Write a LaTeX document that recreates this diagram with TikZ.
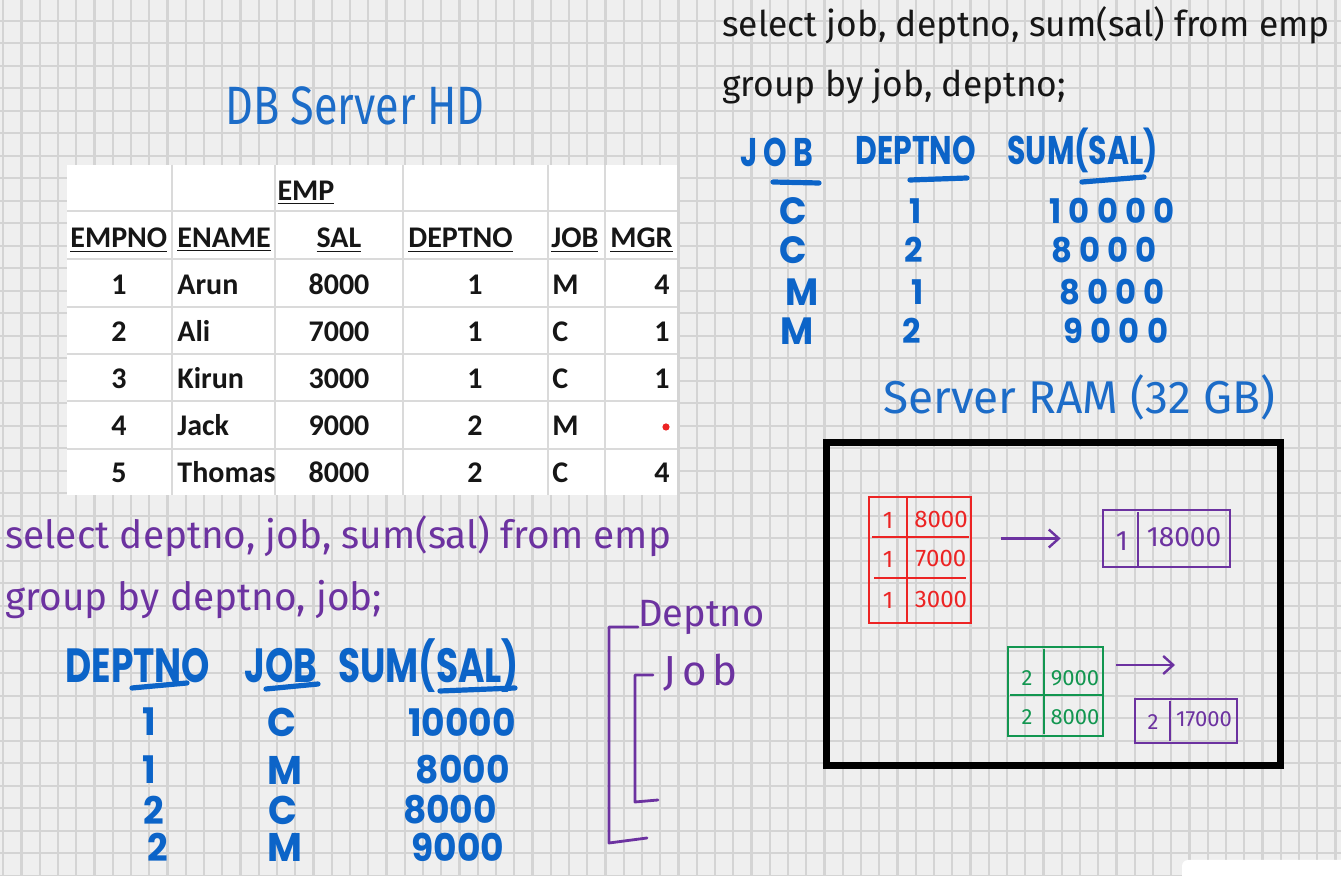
\documentclass[tikz,border=0pt]{standalone}
\usepackage{fontspec}
\setmainfont{Carlito}
\newfontfamily\handfont{Fira Sans}
\newfontfamily\handnarrow{Fira Sans}[FakeStretch=0.8]
\newfontfamily\inkfont{Poppins}[FakeStretch=0.75]
\newfontfamily\inkwide{Poppins}[FakeStretch=0.95]
\usetikzlibrary{arrows.meta}

\definecolor{paper}{RGB}{239,239,239}
\definecolor{gridgray}{RGB}{212,212,212}
\definecolor{tblgray}{RGB}{218,218,218}
\definecolor{inkblue}{RGB}{12,100,200}
\definecolor{titleblue}{RGB}{28,108,200}
\definecolor{inkpurple}{RGB}{108,50,160}
\definecolor{inkred}{RGB}{236,36,36}
\definecolor{inkgreen}{RGB}{18,150,80}
\definecolor{pen}{RGB}{22,22,22}

\begin{document}
\begin{tikzpicture}[x=0.5pt,y=-0.5pt,
    gridline/.style={draw=gridgray, line width=1.1pt},
    tblline/.style={draw=tblgray, line width=0.6pt},
    cell/.style={font=\fontsize{15}{18}\selectfont\bfseries, text=pen, inner sep=0pt},
    query/.style={font=\handfont\fontsize{17.7}{21}\selectfont, anchor=base west, inner sep=0pt},
    ink/.style={font=\inkfont\bfseries\fontsize{24}{28}\selectfont, text=inkblue, inner sep=0pt},
    smallink/.style={ink, font=\inkfont\bfseries\fontsize{20}{24}\selectfont},
    rowink/.style={ink, font=\inkwide\bfseries\fontsize{19}{22}\selectfont},
    toprowink/.style={ink, font=\inkwide\bfseries\fontsize{17}{20}\selectfont},
    stroke/.style={draw=inkblue, line width=2.6pt, line cap=round},
    note/.style={font=\handfont\fontsize{12}{14}\selectfont, inner sep=0pt},
    bracket/.style={draw=inkpurple, line width=1.4pt, line join=round, line cap=round},
    flow/.style={-{Straight Barb[length=5pt,width=9pt]}, draw=inkpurple, line width=1.2pt}
  ]
    \clip (0,0) rectangle (1341,876);
    % squared paper
    \fill[paper] (0,0) rectangle (1341,876);
    \foreach \i in {0,...,73}
      \draw[gridline] ({3.3+18.25*\i},0) -- ++(0,876);
    \foreach \j in {0,...,38}
      \draw[gridline] (0,{20.7+22.5*\j}) -- ++(1341,0);

    % EMP table
    \fill[white] (67,165) rectangle (677,495);
    \foreach \c in {172,275,403,548,605}
      \draw[tblline] (\c,165) -- (\c,495);
    \foreach \r in {211,259,307,354,401,449}
      \draw[tblline] (67,\r) -- (677,\r);
    \node[cell, anchor=base] (emp) at (306,201) {\underline{EMP}};
    \node[cell, anchor=base west] (hno) at (70,248) {\underline{EMPNO}};
    \node[cell, anchor=base west] (hname) at (177,248) {\underline{ENAME}};
    \node[cell, anchor=base] (hsal) at (339,248) {\underline{SAL}};
    \node[cell, anchor=base west] (hdep) at (408,248) {\underline{DEPTNO}};
    \node[cell, anchor=base west] (hjob) at (551,248) {\underline{JOB}};
    \node[cell, anchor=base west] (hmgr) at (610,248) {\underline{MGR}};
    \foreach \n/\name/\sal/\dep/\job/\mgr [count=\k] in
      {1/Arun/8000/1/M/4, 2/Ali/7000/1/C/1, 3/Kirun/3000/1/C/1,
       4/Jack/9000/2/M/{}, 5/Thomas/8000/2/C/4} {
      \pgfmathsetmacro\yb{248+47*\k}
      \node[cell, anchor=base] (no\k) at (119,\yb) {\n};
      \node[cell, anchor=base west] (nm\k) at (177,\yb) {\name};
      \node[cell, anchor=base] (sal\k) at (339,\yb) {\sal};
      \node[cell, anchor=base] (dep\k) at (475,\yb) {\dep};
      \node[cell, anchor=base west] (job\k) at (552,\yb) {\job};
      \node[cell, anchor=base east] (mgr\k) at (670,\yb) {\mgr};
    }
    \fill[inkred] (666,427) circle (1.8pt);

    \node[font=\handnarrow\fontsize{27}{30}\selectfont, text=titleblue,
      anchor=base west, inner sep=0pt] (hd) at (225,125) {DB Server HD};

    % first query (top right)
    \node[query, text=pen] (q1a) at (722,37) {select job, deptno, sum(sal) from emp};
    \node[query, text=pen] (q1b) at (722,97) {group by job, deptno;};
    \node[smallink, anchor=base west, font=\inkfont\bfseries\fontsize{20}{24}\selectfont\addfontfeatures{LetterSpace=15}] (tjob) at (740,167) {JOB};
    \node[smallink, anchor=base west] (tdep) at (855,165) {DEPTNO};
    \node[smallink, anchor=base west] (tsum) at (1007,165) {SUM(SAL)};
    \draw[stroke] (773,182) -- (819,183);
    \draw[stroke] (910,180) -- (967,178);
    \draw[stroke] (1082,182) -- (1144,177);
    \foreach \a/\xa/\b/\xb/\s/\xs/\y [count=\k] in
      {C/793/1/916/10000/1112/211, C/793/2/914/8000/1104/250,
       M/802/1/918/8000/1112/292, M/797/2/912/9000/1116/331} {
      \node[toprowink, font=\inkwide\bfseries\fontsize{19}{22}\selectfont] (tj\k) at (\xa,\y) {\a};
      \node[toprowink] (td\k) at (\xb,\y) {\b};
      \node[toprowink, font=\inkwide\bfseries\fontsize{17}{20}\selectfont\addfontfeatures{LetterSpace=21}] (ts\k) at (\xs,\y) {\s};
    }

    % second query (bottom left)
    \node[query, text=inkpurple, font=\handfont\fontsize{19.4}{23}\selectfont] (q2a) at (5,549) {select deptno, job, sum(sal) from emp};
    \node[query, text=inkpurple, font=\handfont\fontsize{19.4}{23}\selectfont] (q2b) at (5,611) {group by deptno, job;};
    \node[ink, anchor=base west] (bdep) at (65,683) {DEPTNO};
    \node[ink, anchor=base west] (bjob) at (244,683) {JOB};
    \node[ink, anchor=base west] (bsum) at (338,683) {SUM(SAL)};
    \draw[stroke] (132,688) -- (187,683);
    \draw[stroke] (266,689) -- (318,684);
    \draw[stroke] (440,691) -- (515,688);
    \foreach \a/\xa/\b/\xb/\s/\xs/\y [count=\k] in
      {1/149/C/282/10000/462/722, 1/149/M/285/8000/463/770,
       2/154/C/283/8000/450/810, 2/158/M/285/9000/458/847} {
      \node[rowink] (bd\k) at (\xa,\y) {\a};
      \node[rowink, font=\inkwide\bfseries\fontsize{20}{23}\selectfont] (bj\k) at (\xb,\y) {\b};
      \node[rowink] (bs\k) at (\xs,\y) {\s};
    }

    % grouping brackets
    \node[query, text=inkpurple, font=\handfont\fontsize{19}{22}\selectfont] (gdep) at (638,627) {Deptno};
    \node[query, text=inkpurple, font=\handfont\fontsize{21}{24}\selectfont\addfontfeatures{LetterSpace=14}] (gjob) at (663,686) {Job};
    \draw[bracket] (gdep.base west) -- (609,627) -- (609,843) -- (647,838);
    \draw[bracket] (653,675) -- (635,675) -- (635,802) -- (658,800);

    % server memory
    \node[font=\handfont\fontsize{23}{26}\selectfont, text=titleblue,
      anchor=base west, inner sep=0pt] (ramlbl) at (883,414) {Server RAM (32 GB)};
    \node[draw=black, line width=3.5pt, minimum width=227pt, minimum height=161.5pt,
      inner sep=0pt] (ram) at (1053,604.5) {};

    \node[draw=inkred, line width=1.4pt, minimum width=51pt, minimum height=63pt,
      inner sep=0pt] (agg1) at (920,560) {};
    \draw[inkred, line width=1.2pt] (907,497) -- (907,623);
    \draw[inkred, line width=1.2pt] (872,537) -- (969,537);
    \draw[inkred, line width=1.2pt] (874,578) -- (966,578);
    \foreach \v/\y [count=\k] in {8000/520, 7000/559, 3000/600} {
      \node[note, text=inkred] (ak\k) at (888,\y) {1};
      \node[note, text=inkred] (av\k) at (941,\y) {\v};
    }

    \node[draw=inkpurple, line width=1.4pt, minimum width=63.5pt, minimum height=28.5pt,
      inner sep=0pt] (sum1) at (1166.5,538.5) {};
    \draw[inkpurple, line width=1.2pt] (1138,512) -- (1138,566);
    \node[note, text=inkpurple, font=\handfont\fontsize{14}{16}\selectfont] (sk1) at (1122,541) {1};
    \node[note, text=inkpurple, font=\handfont\fontsize{14}{16}\selectfont] (sv1) at (1184,537) {18000};

    \node[draw=inkgreen, line width=1.4pt, minimum width=47.5pt, minimum height=44.5pt,
      inner sep=0pt] (agg2) at (1055.5,691.5) {};
    \draw[inkgreen, line width=1.2pt] (1044,649) -- (1044,734);
    \draw[inkgreen, line width=1.2pt] (1010,695) -- (1103,695);
    \foreach \v/\y [count=\k] in {9000/678, 8000/717} {
      \node[note, text=inkgreen, font=\handfont\fontsize{11}{13}\selectfont] (gk\k) at (1027,\y) {2};
      \node[note, text=inkgreen, font=\handfont\fontsize{11}{13}\selectfont] (gv\k) at (1075,\y) {\v};
    }

    \node[draw=inkpurple, line width=1.4pt, minimum width=51pt, minimum height=22pt,
      inner sep=0pt] (sum2) at (1186,721) {};
    \draw[inkpurple, line width=1.2pt] (1170,701) -- (1170,741);
    \node[note, text=inkpurple, font=\handfont\fontsize{11}{13}\selectfont] (sk2) at (1153,722) {2};
    \node[note, text=inkpurple, font=\handfont\fontsize{11}{13}\selectfont] (sv2) at (1204,719) {17000};

    \draw[flow, shorten <=14.5pt, shorten >=20.5pt] (agg1.east |- sum1.west) -- (sum1.west);
    \coordinate (tip2) at (1175,665);
    \draw[flow, shorten <=6pt] (agg2.east |- tip2) -- (tip2);

    % corner of the player frame
    \fill[white, rounded corners=3pt] (1182,860) rectangle (1360,900);
  \end{tikzpicture}
\end{document}
